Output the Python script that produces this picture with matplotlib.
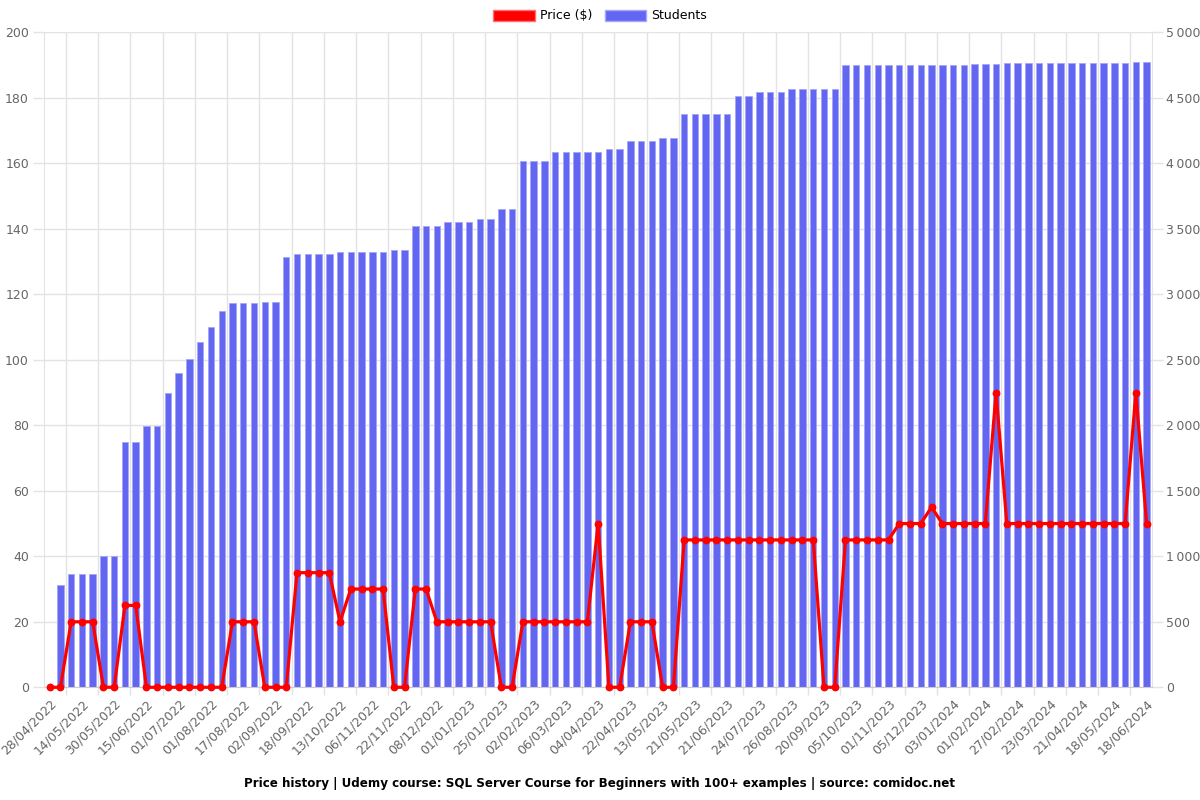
import matplotlib
matplotlib.use("Agg")
import matplotlib.pyplot as plt
from matplotlib.patches import Patch
from matplotlib.ticker import FixedLocator, FuncFormatter

# ---- data ----
tick_labels = ["28/04/2022", "14/05/2022", "30/05/2022", "15/06/2022", "01/07/2022",
               "01/08/2022", "17/08/2022", "02/09/2022", "18/09/2022", "13/10/2022",
               "06/11/2022", "22/11/2022", "08/12/2022", "01/01/2023", "25/01/2023",
               "02/02/2023", "06/03/2023", "04/04/2023", "22/04/2023", "13/05/2023",
               "21/05/2023", "21/06/2023", "24/07/2023", "26/08/2023", "20/09/2023",
               "05/10/2023", "01/11/2023", "05/12/2023", "03/01/2024", "01/02/2024",
               "27/02/2024", "23/03/2024", "21/04/2024", "18/05/2024", "18/06/2024"]

price = [0, 0, 20, 20, 20, 0, 0, 25, 25, 0,
         0, 0, 0, 0, 0, 0, 0, 20, 20, 20,
         0, 0, 0, 35, 35, 35, 35, 20, 30, 30,
         30, 30, 0, 0, 30, 30, 20, 20, 20, 20,
         20, 20, 0, 0, 20, 20, 20, 20, 20, 20,
         20, 50, 0, 0, 20, 20, 20, 0, 0, 45,
         45, 45, 45, 45, 45, 45, 45, 45, 45, 45,
         45, 45, 0, 0, 45, 45, 45, 45, 45, 50,
         50, 50, 55, 50, 50, 50, 50, 50, 90, 50,
         50, 50, 50, 50, 50, 50, 50, 50, 50, 50,
         50, 90, 50]

students = [0, 780, 862, 862, 862, 1005, 1005, 1873, 1873, 1992,
            1992, 2244, 2402, 2509, 2639, 2748, 2870, 2931, 2931, 2931,
            2939, 2939, 3285, 3310, 3310, 3310, 3310, 3322, 3322, 3322,
            3322, 3322, 3338, 3338, 3519, 3519, 3519, 3555, 3555, 3555,
            3574, 3574, 3649, 3649, 4016, 4016, 4016, 4088, 4088, 4088,
            4088, 4088, 4106, 4106, 4172, 4172, 4172, 4196, 4196, 4380,
            4380, 4380, 4380, 4380, 4517, 4517, 4544, 4544, 4544, 4568,
            4568, 4568, 4571, 4571, 4748, 4748, 4748, 4748, 4748, 4748,
            4748, 4748, 4748, 4748, 4748, 4748, 4758, 4758, 4758, 4763,
            4763, 4763, 4763, 4763, 4763, 4763, 4763, 4763, 4763, 4766,
            4766, 4775, 4775]

title = "Price history | Udemy course: SQL Server Course for Beginners with 100+ examples | source: comidoc.net"

# ---- styling ----
RED = "#ff0000"
BLUE = "#6366f1"
GRID = "#e3e3e3"
TXT = "#666666"

plt.rcParams['font.family'] = ['DejaVu Sans']

fig = plt.figure(figsize=(12, 8), dpi=100)
ax2 = fig.add_axes([0.0369, 0.1409, 0.9231, 0.8187])  # students (right scale), drawn below
ax1 = fig.add_axes(ax2.get_position(), sharex=ax2)   # price (left scale), drawn on top
ax1.patch.set_visible(False)

x = list(range(len(students)))

# bars
ax2.bar(x, students, width=0.6, color=BLUE, edgecolor="#a5a7f7", linewidth=0.6, zorder=2)
ax2.set_ylim(0, 5000)
ax2.yaxis.tick_right()
ax2.yaxis.set_label_position("right")
ax2.set_yticks(range(0, 5001, 500))
ax2.yaxis.set_major_formatter(FuncFormatter(lambda v, p: f"{int(v):,}".replace(",", "\u2009")))

# line
ax1.plot(x, price, color=RED, linewidth=2.3, marker="o", markersize=4.6,
         markerfacecolor=RED, markeredgecolor=RED, zorder=5, clip_on=False)
ax1.set_ylim(0, 200)
ax1.set_yticks(range(0, 201, 20))
ax1.yaxis.tick_left()

ax2.set_xlim(-0.5, len(students) - 0.5)

# x ticks: labels every 3 points; gridlines between (offset)
label_pos = list(range(0, len(students), 3))
grid_pos = [p + 1.5 for p in label_pos if p + 1.5 < len(students) - 0.5]
ax2.xaxis.set_major_locator(FixedLocator(label_pos))
ax2.set_xticklabels(tick_labels, rotation=45, ha="right", rotation_mode="anchor")
ax2.xaxis.set_minor_locator(FixedLocator(grid_pos))
ax2.tick_params(axis="x", which="major", length=0, pad=7, labelsize=9, labelcolor=TXT)
ax2.tick_params(axis="x", which="minor", length=6, color=GRID, width=1)
ax1.tick_params(axis="x", which="both", bottom=False, labelbottom=False)

ax2.grid(axis="x", which="minor", color=GRID, linewidth=1, zorder=0)
ax2.grid(axis="y", which="major", color=GRID, linewidth=1, zorder=0)
ax2.set_axisbelow(True)

ax2.tick_params(axis="y", length=8, color=GRID, width=1, labelsize=9, labelcolor=TXT, pad=2)
ax1.tick_params(axis="y", length=8, color=GRID, width=1, labelsize=9, labelcolor=TXT, pad=3)

for a in (ax1, ax2):
    for s in a.spines.values():
        s.set_visible(False)
ax2.spines["bottom"].set_visible(True)
ax2.spines["bottom"].set_color("#cccccc")
ax2.spines["left"].set_visible(True)
ax2.spines["left"].set_color(GRID)
ax2.spines["right"].set_visible(True)
ax2.spines["right"].set_color(GRID)

# legend
handles = [Patch(facecolor=RED, edgecolor="#ff7070", linewidth=1, label="Price ($)"),
           Patch(facecolor=BLUE, edgecolor="#a5a7f7", linewidth=1, label="Students")]
fig.legend(handles=handles, loc="upper center", bbox_to_anchor=(0.5, 1.0), ncol=2,
           frameon=False, fontsize=9, handlelength=3.3, handleheight=1.0,
           columnspacing=1.0, handletextpad=0.4, borderaxespad=0.35)

fig.text(0.5, 0.021, title, ha="center", va="center", fontsize=8.6, fontweight="bold")

fig.savefig("out.png", dpi=100)
